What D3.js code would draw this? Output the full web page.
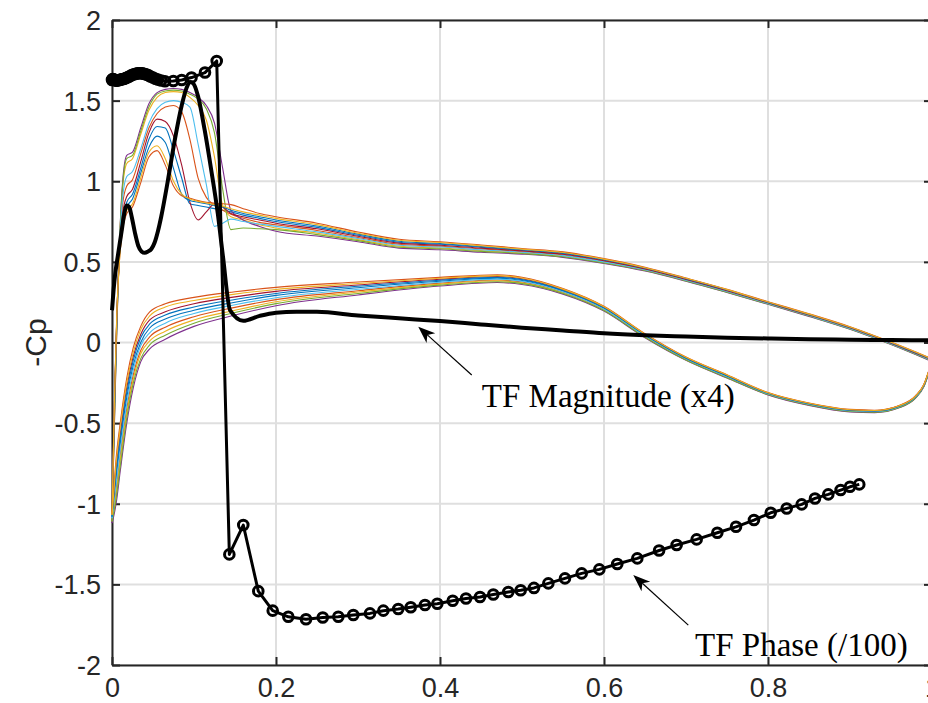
<!DOCTYPE html>
<html><head><meta charset="utf-8">
<script src="https://cdn.jsdelivr.net/npm/d3@7"></script>
<style>body{margin:0;background:#fff}svg{display:block}</style>
</head><body><svg id="chart" width="928" height="703"></svg>
<script>
// ---------- data ----------
const xTicks = [0, 0.2, 0.4, 0.6, 0.8, 1];
const yTicks = [-2, -1.5, -1, -0.5, 0, 0.5, 1, 1.5, 2];
const yLabel = "-Cp";

// chordwise stations (x/c)
const xUpper = [0,0.003,0.006,0.009,0.013,0.018,0.025,0.035,0.045,0.055,0.065,0.075,0.085,0.095,0.105,0.115,0.125,0.135,0.145,0.16,0.18,
                0.2,0.25,0.3,0.35,0.4,0.45,0.5,0.55,0.6,0.65,0.7,0.75,0.8,0.85,0.9,0.95,1];
const xLower = [0,0.002,0.005,0.01,0.018,0.026,0.035,0.046,0.065,0.1,0.15,0.2,0.3,0.4,0.47,0.5,0.55,0.6,0.65,0.7,0.75,0.8,0.85,0.9,0.93,0.96,0.98,0.99,1];

// -Cp, upper surface, per snapshot
const up1 = [-1.09,-0.40,0.17,0.54,0.76,0.87,0.92,1.08,1.26,1.34,1.33,1.19,1.02,0.86,0.85,0.84,0.83,0.82,0.81,0.79,0.77,
             0.75,0.714,0.665,0.622,0.609,0.59,0.571,0.551,0.51,0.459,0.393,0.323,0.248,0.173,0.093,-0.002,-0.106];
const up2 = [-1.10,-0.44,0.15,0.57,0.86,0.97,1.01,1.17,1.33,1.42,1.46,1.47,1.43,1.26,1.02,0.90,0.85,0.82,0.795,0.77,0.745,
             0.73,0.695,0.651,0.609,0.597,0.58,0.563,0.543,0.503,0.454,0.389,0.319,0.244,0.169,0.089,-0.006,-0.11];
const up3 = [-1.11,-0.46,0.14,0.60,0.96,1.11,1.14,1.29,1.44,1.52,1.55,1.556,1.55,1.52,1.47,1.38,1.15,0.85,0.78,0.76,0.73,
             0.71,0.678,0.638,0.597,0.586,0.57,0.556,0.535,0.497,0.448,0.384,0.314,0.241,0.166,0.086,-0.009,-0.114];
const up4 = [-1.12,-0.50,0.10,0.60,1.00,1.16,1.18,1.33,1.48,1.55,1.57,1.575,1.57,1.55,1.52,1.47,1.36,1.08,0.82,0.76,0.72,
             0.69,0.66,0.625,0.585,0.575,0.56,0.548,0.528,0.49,0.443,0.38,0.31,0.237,0.162,0.082,-0.013,-0.118];
const up5 = [-1.11,-0.48,0.12,0.60,0.98,1.14,1.16,1.31,1.46,1.54,1.56,1.565,1.56,1.54,1.51,1.45,1.30,0.95,0.70,0.71,0.705,
             0.70,0.669,0.632,0.591,0.581,0.565,0.552,0.532,0.493,0.446,0.382,0.312,0.239,0.164,0.084,-0.011,-0.116];
const up6 = [-1.09,-0.42,0.15,0.58,0.90,1.03,1.06,1.20,1.36,1.45,1.49,1.50,1.49,1.46,1.23,0.98,0.72,0.74,0.765,0.75,0.735,
             0.72,0.686,0.645,0.603,0.592,0.575,0.56,0.539,0.50,0.451,0.387,0.317,0.242,0.167,0.087,-0.008,-0.112];
const up7 = [-1.07,-0.38,0.18,0.55,0.80,0.905,0.95,1.12,1.30,1.385,1.37,1.28,1.10,0.87,0.76,0.81,0.86,0.84,0.80,0.78,0.76,
             0.74,0.705,0.659,0.616,0.603,0.585,0.568,0.547,0.507,0.456,0.391,0.321,0.246,0.171,0.091,-0.004,-0.108];
const up8 = [-1.08,-0.38,0.18,0.52,0.74,0.84,0.89,1.05,1.21,1.28,1.24,1.08,0.92,0.88,0.87,0.86,0.85,0.84,0.82,0.80,0.78,
             0.76,0.722,0.672,0.628,0.614,0.595,0.575,0.555,0.513,0.462,0.396,0.326,0.249,0.174,0.094,-0.001,-0.104];
const up9 = [-1.06,-0.35,0.20,0.50,0.70,0.80,0.84,0.99,1.15,1.19,1.10,0.97,0.91,0.895,0.88,0.87,0.865,0.86,0.855,0.83,0.80,
             0.78,0.74,0.685,0.64,0.625,0.605,0.583,0.562,0.52,0.467,0.40,0.33,0.253,0.178,0.098,0.003,-0.10];
const up10 = [-1.07,-0.36,0.20,0.50,0.72,0.82,0.86,1.02,1.18,1.22,1.14,1.00,0.92,0.89,0.875,0.865,0.855,0.845,0.83,0.81,0.79,
              0.77,0.731,0.678,0.634,0.62,0.60,0.579,0.558,0.517,0.464,0.398,0.328,0.251,0.176,0.096,0.001,-0.102];

// -Cp, lower surface, per snapshot
const lo1 = [-1.09,-0.99,-0.84,-0.63,-0.34,-0.14,0.00,0.09,0.145,0.20,0.25,0.292,0.34,0.38,0.399,0.385,0.32,0.212,0.044,-0.099,-0.209,-0.317,-0.382,-0.422,-0.427,-0.397,-0.337,-0.267,-0.117];
const lo2 = [-1.10,-1.03,-0.91,-0.70,-0.41,-0.20,-0.05,0.035,0.095,0.16,0.218,0.266,0.321,0.368,0.388,0.375,0.312,0.205,0.038,-0.103,-0.213,-0.32,-0.385,-0.425,-0.43,-0.40,-0.34,-0.27,-0.12];
const lo3 = [-1.11,-1.04,-0.94,-0.73,-0.44,-0.225,-0.07,0.01,0.07,0.14,0.20,0.253,0.313,0.362,0.383,0.37,0.308,0.202,0.036,-0.106,-0.216,-0.322,-0.387,-0.427,-0.432,-0.402,-0.342,-0.272,-0.122];
const lo4 = [-1.12,-1.08,-1.00,-0.80,-0.50,-0.28,-0.12,-0.04,0.02,0.10,0.17,0.228,0.295,0.35,0.372,0.36,0.30,0.195,0.03,-0.11,-0.22,-0.325,-0.39,-0.43,-0.435,-0.405,-0.345,-0.275,-0.125];
const lo5 = [-1.11,-1.06,-0.97,-0.77,-0.47,-0.25,-0.10,-0.015,0.045,0.12,0.186,0.241,0.304,0.356,0.377,0.365,0.304,0.198,0.033,-0.108,-0.218,-0.323,-0.388,-0.428,-0.433,-0.403,-0.343,-0.273,-0.123];
const lo6 = [-1.09,-1.01,-0.88,-0.67,-0.38,-0.17,-0.02,0.06,0.12,0.18,0.234,0.278,0.33,0.374,0.393,0.38,0.315,0.208,0.041,-0.101,-0.211,-0.318,-0.383,-0.423,-0.428,-0.398,-0.338,-0.268,-0.118];
const lo7 = [-1.07,-0.96,-0.78,-0.57,-0.28,-0.085,0.05,0.14,0.19,0.24,0.283,0.317,0.357,0.392,0.409,0.395,0.327,0.218,0.05,-0.094,-0.204,-0.313,-0.378,-0.418,-0.423,-0.393,-0.333,-0.263,-0.113];
const lo8 = [-1.08,-0.97,-0.81,-0.60,-0.31,-0.11,0.03,0.115,0.17,0.22,0.267,0.304,0.349,0.386,0.404,0.39,0.323,0.215,0.047,-0.097,-0.207,-0.315,-0.38,-0.42,-0.425,-0.395,-0.335,-0.265,-0.115];
const lo9 = [-1.06,-0.92,-0.72,-0.50,-0.22,-0.03,0.10,0.19,0.24,0.28,0.315,0.342,0.375,0.404,0.42,0.405,0.335,0.225,0.055,-0.09,-0.20,-0.31,-0.375,-0.415,-0.42,-0.39,-0.33,-0.26,-0.11];
const lo10 = [-1.07,-0.94,-0.75,-0.53,-0.25,-0.06,0.08,0.165,0.22,0.26,0.30,0.329,0.366,0.398,0.415,0.40,0.331,0.222,0.052,-0.092,-0.202,-0.312,-0.377,-0.417,-0.422,-0.392,-0.332,-0.262,-0.112];

// transfer function magnitude (x4)
const magX = [0,0.002,0.004,0.006,0.009,0.012,0.015,0.018,0.021,0.024,0.028,0.032,0.036,0.04,0.044,0.048,0.052,0.056,0.06,0.068,0.076,0.085,0.091,0.096,0.1,0.105,0.113,0.121,0.129,0.1354,0.144,0.16,0.18,0.2,0.225,0.25,0.3,0.35,0.4,0.45,0.5,0.55,0.6,0.65,0.7,0.75,0.8,0.85,0.9,0.95,1];
const magY = [0.2,0.33,0.43,0.5,0.6,0.7,0.8,0.85,0.84,0.78,0.68,0.6,0.565,0.556,0.565,0.58,0.62,0.69,0.78,1.0,1.24,1.47,1.58,1.615,1.6,1.525,1.318,1.07,0.80,0.53,0.2,0.135,0.165,0.185,0.191,0.19,0.168,0.15,0.133,0.112,0.092,0.075,0.057,0.045,0.037,0.03,0.025,0.02,0.017,0.015,0.013];

// transfer function phase (/100)
const phaseX = [0,0.0005,0.001,0.002,0.003,0.004,0.005,0.006,0.0075,0.009,0.0105,0.012,0.0135,0.015,0.017,0.019,0.021,0.023,0.025,0.027,0.029,0.031,0.033,0.035,0.037,0.039,0.041,0.043,0.045,0.047,0.05,0.053,0.056,0.06,
  0.0646,0.0748,0.085,0.097,0.1134,0.1277,
  0.1431,0.1601,0.1784,0.196,0.215,0.2366,0.257,0.276,0.2943,0.3146,0.3309,0.3491,0.3643,0.3817,0.3967,0.4155,0.4317,0.4488,0.465,0.4833,0.4984,0.5146,0.5321,0.5524,0.5728,0.5943,0.6162,0.6406,0.6672,0.6886,0.713,0.7382,0.761,0.7829,0.8033,0.8228,0.8411,0.8573,0.8735,0.8886,0.9,0.9113];
const phaseY = [1.628,1.632,1.634,1.632,1.629,1.626,1.624,1.624,1.626,1.628,1.63,1.632,1.634,1.636,1.64,1.645,1.65,1.655,1.66,1.664,1.667,1.669,1.67,1.67,1.669,1.667,1.664,1.66,1.655,1.65,1.643,1.636,1.63,1.625,
  1.62,1.622,1.628,1.643,1.674,1.746,
  -1.314,-1.132,-1.542,-1.663,-1.701,-1.716,-1.705,-1.701,-1.69,-1.68,-1.663,-1.653,-1.642,-1.628,-1.62,-1.602,-1.588,-1.578,-1.563,-1.547,-1.536,-1.522,-1.494,-1.463,-1.432,-1.407,-1.374,-1.339,-1.29,-1.256,-1.221,-1.18,-1.143,-1.101,-1.056,-1.029,-1.004,-0.967,-0.942,-0.915,-0.895,-0.88];

// annotation texts
const annMagText = "TF Magnitude (x4)";
const annPhaseText = "TF Phase (/100)";

// ---------- drawing ----------
const upperList = [up1,up2,up3,up4,up5,up6,up7,up8,up9,up10];
const lowerList = [lo1,lo2,lo3,lo4,lo5,lo6,lo7,lo8,lo9,lo10];
const palette = ["#0072BD","#D95319","#EDB120","#7E2F8E","#77AC30","#4DBEEE","#A2142F"];

const L = 112, R = 932, T = 20, B = 665;
const svg = d3.select("#chart");
const x = d3.scaleLinear().domain([0,1]).range([L,R]);
const y = d3.scaleLinear().domain([-2,2]).range([B,T]);
const axisCol = "#262626";

// grid
const g = svg.append("g");
g.selectAll("line.vg").data(xTicks).join("line")
  .attr("x1",d=>x(d)).attr("x2",d=>x(d)).attr("y1",T).attr("y2",B)
  .attr("stroke","#dfdfdf").attr("stroke-width",2);
g.selectAll("line.hg").data(yTicks).join("line")
  .attr("x1",L).attr("x2",R).attr("y1",d=>y(d)).attr("y2",d=>y(d))
  .attr("stroke","#dfdfdf").attr("stroke-width",2);

// axes (inward ticks, box)
const fontSans = "'Liberation Sans', Arial, Helvetica, sans-serif";
const xAxis = d3.axisBottom(x).tickValues(xTicks).tickFormat(d=>String(d)).tickSizeInner(-8).tickSizeOuter(0);
const yAxis = d3.axisLeft(y).tickValues(yTicks).tickFormat(d=>String(d)).tickSizeInner(-8).tickSizeOuter(0);
const gx = svg.append("g").attr("transform",`translate(0,${B})`).call(xAxis);
const gy = svg.append("g").attr("transform",`translate(${L},0)`).call(yAxis);
[gx,gy].forEach(a=>{
  a.select(".domain").attr("stroke",axisCol).attr("stroke-width",2);
  a.selectAll(".tick line").attr("stroke",axisCol).attr("stroke-width",2);
  a.selectAll(".tick text").attr("fill",axisCol).style("font-family",fontSans).style("font-size","27px");
});
gx.selectAll(".tick text").attr("dy","0.71em").attr("y",13);
gy.selectAll(".tick text").attr("x",-11).attr("dy","0.35em");
const gt = svg.append("g").attr("transform",`translate(0,${T})`).call(d3.axisTop(x).tickValues(xTicks).tickFormat("").tickSizeInner(-8).tickSizeOuter(0));
const gr = svg.append("g").attr("transform",`translate(${R},0)`).call(d3.axisRight(y).tickValues(yTicks).tickFormat("").tickSizeInner(-8).tickSizeOuter(0));
[gt,gr].forEach(a=>{
  a.select(".domain").attr("stroke",axisCol).attr("stroke-width",2);
  a.selectAll(".tick line").attr("stroke",axisCol).attr("stroke-width",2);
});

// y label
svg.append("text").attr("transform",`translate(46,${y(0)}) rotate(-90)`)
  .attr("text-anchor","middle").attr("fill",axisCol)
  .style("font-family",fontSans).style("font-size","30px").text(yLabel);

// Cp curves
const lineC = d3.line().x(d=>x(d[0])).y(d=>y(d[1])).curve(d3.curveMonotoneX);
upperList.forEach((u,i)=>{
  const lo = lowerList[i];
  const col = palette[i % palette.length];
  const ptsL = xLower.map((xv,k)=>[xv, lo[k]]).filter(p=>p[1]!==undefined);
  const ptsU = xUpper.map((xv,k)=>[xv, u[k]]).filter(p=>p[1]!==undefined);
  svg.append("path").attr("d",lineC(ptsL)).attr("fill","none").attr("stroke",col).attr("stroke-width",1.1);
  svg.append("path").attr("d",lineC(ptsU)).attr("fill","none").attr("stroke",col).attr("stroke-width",1.1);
});

// magnitude
const magPts = magX.map((v,k)=>[v,magY[k]]);
svg.append("path").attr("d",d3.line().x(d=>x(d[0])).y(d=>y(d[1])).curve(d3.curveMonotoneX)(magPts))
  .attr("fill","none").attr("stroke","#000").attr("stroke-width",4).attr("stroke-linejoin","round");

// phase
const phPts = phaseX.map((v,k)=>[v,phaseY[k]]);
svg.append("path").attr("d",d3.line().x(d=>x(d[0])).y(d=>y(d[1]))(phPts))
  .attr("fill","none").attr("stroke","#000").attr("stroke-width",3).attr("stroke-linejoin","round");
svg.selectAll("circle.ph").data(phPts).join("circle")
  .attr("cx",d=>x(d[0])).attr("cy",d=>y(d[1])).attr("r",4.8)
  .attr("fill","none").attr("stroke","#000").attr("stroke-width",3);

// annotation arrows
function arrow(x0,y0,x1,y1){
  const px0=x(x0), py0=y(y0), px1=x(x1), py1=y(y1);
  const ang = Math.atan2(py1-py0, px1-px0);
  const Lh = 17, Wh = 6.5;
  const c = Math.cos(ang), s = Math.sin(ang);
  const pt = (a,b)=>[px1 + a*c - b*s, py1 + a*s + b*c];
  const nb = pt(-0.72*Lh,0);
  svg.append("line").attr("x1",px0).attr("y1",py0).attr("x2",nb[0]).attr("y2",nb[1]).attr("stroke","#000").attr("stroke-width",1.2);
  const poly = [pt(0,0), pt(-Lh,Wh), nb, pt(-Lh,-Wh)];
  svg.append("polygon").attr("points",poly.map(p=>p.join(",")).join(" ")).attr("fill","#000");
}
arrow(0.4387,-0.2016,0.3735,0.098);
arrow(0.7028,-1.7525,0.6357,-1.442);

const fontSerif = "'Liberation Serif','Times New Roman',Times,serif";
svg.append("text").attr("x",x(0.451)).attr("y",y(-0.397)).attr("fill","#000")
  .style("font-family",fontSerif).style("font-size","33px").text(annMagText);
svg.append("text").attr("x",x(0.711)).attr("y",y(-1.947)).attr("fill","#000")
  .style("font-family",fontSerif).style("font-size","33px").text(annPhaseText);
</script></body></html>
